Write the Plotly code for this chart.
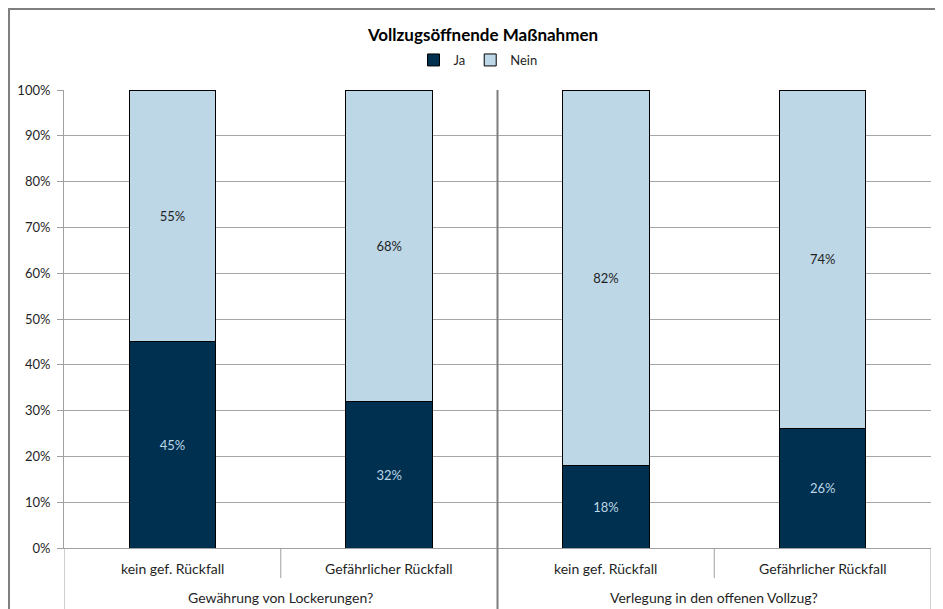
import plotly.graph_objects as go

categories = ["kein gef. Rückfall", "Gefährlicher Rückfall", "kein gef. Rückfall", "Gefährlicher Rückfall"]
groups = ["Gewährung von Lockerungen?", "Verlegung in den offenen Vollzug?"]
ja = [0.45, 0.32, 0.18, 0.26]
nein = [0.55, 0.68, 0.82, 0.74]
y_ticks = [0, 0.1, 0.2, 0.3, 0.4, 0.5, 0.6, 0.7, 0.8, 0.9, 1.0]
y_ticktext = ["0%", "10%", "20%", "30%", "40%", "50%", "60%", "70%", "80%", "90%", "100%"]

FONT = "Lato, 'Open Sans', sans-serif"
DARK = "#00304F"
LIGHT = "#BDD7E7"

xpos = list(range(len(categories)))

fig = go.Figure()
fig.add_trace(go.Bar(
    x=xpos, y=ja, name="Ja", width=0.4,
    marker=dict(color=DARK, line=dict(color="#000000", width=1)),
    text=[f"{round(v*100)}%" for v in ja], textposition="inside",
    insidetextanchor="middle", textangle=0,
    textfont=dict(color=LIGHT, size=13, family=FONT),
))
fig.add_trace(go.Bar(
    x=xpos, y=nein, name="Nein", width=0.4,
    marker=dict(color=LIGHT, line=dict(color="#000000", width=1)),
    text=[f"{round(v*100)}%" for v in nein], textposition="inside",
    insidetextanchor="middle", textangle=0,
    textfont=dict(color="#1F1F1F", size=13, family=FONT),
))

# page body adds 8px offset; figure sized to compensate
W, H = 935, 601
ML, MR, MT, MB = 56, 12, 82, 61
PW = W - ML - MR
PH = H - MT - MB

shapes = []
line_col = "#A0A0A0"
for xv in [-0.5, 3.5]:
    shapes.append(dict(type="line", xref="x", yref="paper", x0=xv, x1=xv, y0=0, y1=-0.2,
                       line=dict(color=line_col, width=1)))
for xv in [0.5, 2.5]:
    shapes.append(dict(type="line", xref="x", yref="paper", x0=xv, x1=xv, y0=0, y1=-30/PH,
                       line=dict(color=line_col, width=1)))
shapes.append(dict(type="line", xref="x", yref="paper", x0=1.5, x1=1.5, y0=1, y1=-0.2,
                   line=dict(color="#7F7F7F", width=2)))
# outer chart border
shapes.append(dict(type="rect", xref="paper", yref="paper",
                   x0=(1 - ML)/PW, x1=1.2, y0=-0.3, y1=1 + (MT - 1)/PH,
                   line=dict(color="#7F7F7F", width=2), fillcolor="rgba(0,0,0,0)", layer="below"))

annotations = []
for i, c in enumerate(categories):
    annotations.append(dict(x=i, y=-20/PH, xref="x", yref="paper", text=c, showarrow=False,
                            font=dict(size=14, color="#1F1F1F", family=FONT),
                            xanchor="center", yanchor="middle"))
for g, gx in zip(groups, [0.5, 2.5]):
    annotations.append(dict(x=gx, y=-49/PH, xref="x", yref="paper", text=g, showarrow=False,
                            font=dict(size=14, color="#1F1F1F", family=FONT),
                            xanchor="center", yanchor="middle"))

fig.update_layout(
    width=W, height=H,
    margin=dict(l=ML, r=MR, t=MT, b=MB, autoexpand=False),
    barmode="stack",
    paper_bgcolor="white", plot_bgcolor="white",
    font=dict(family=FONT, size=13, color="#1F1F1F"),
    title=dict(text="<b>Vollzugsöffnende Maßnahmen</b>", x=475/W, xanchor="center",
               y=1 - 27/H, yanchor="middle", font=dict(size=17, color="#000000", family=FONT)),
    legend=dict(orientation="h", x=(470 - ML)/PW, xanchor="center", y=1 + 30/PH, yanchor="middle",
                font=dict(size=13, family=FONT), traceorder="normal", itemwidth=30,
                bgcolor="rgba(0,0,0,0)"),
    xaxis=dict(range=[-0.5, 3.5], showticklabels=False, showgrid=False, zeroline=False,
               showline=True, linecolor=line_col, linewidth=1, ticks=""),
    yaxis=dict(range=[0, 1], tickvals=y_ticks, ticktext=y_ticktext, showgrid=True,
               gridcolor="#A6A6A6", gridwidth=1, zeroline=False, showline=True,
               linecolor=line_col, linewidth=1, ticks="outside", ticklen=6, tickcolor=line_col,
               ticklabelstandoff=4,
               tickfont=dict(size=13, color="#1F1F1F", family=FONT)),
    shapes=shapes, annotations=annotations,
)

fig.write_html("out.html")
